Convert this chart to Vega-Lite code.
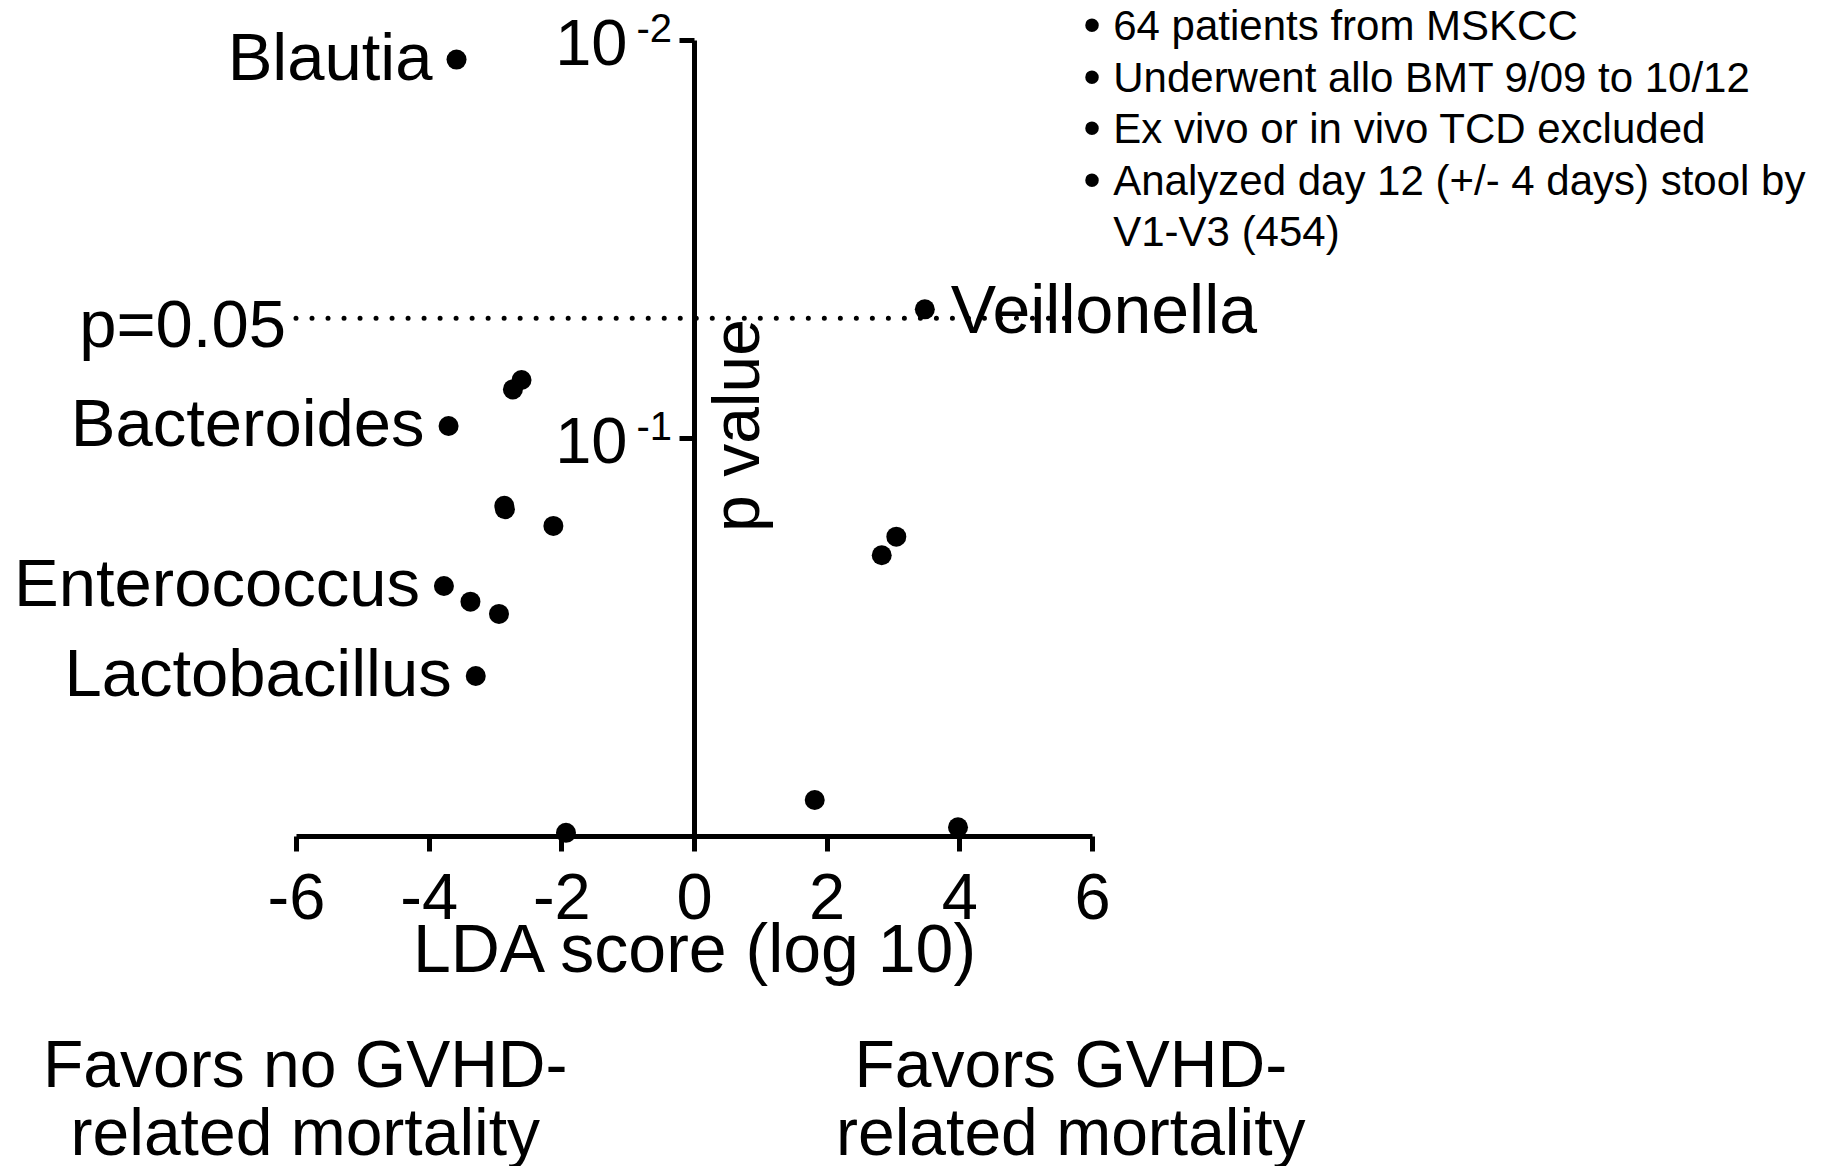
{
  "$schema": "https://vega.github.io/schema/vega-lite/v6.json",
  "width": 796,
  "height": 796,
  "autosize": {"type": "none"},
  "padding": {"left": 296, "top": 40, "right": 744, "bottom": 330},
  "background": "white",
  "config": {
    "view": {"stroke": null},
    "font": "Liberation Sans",
    "axis": {"labelFont": "Liberation Sans", "titleFont": "Liberation Sans", "labelColor": "black", "titleColor": "black", "domainColor": "black", "tickColor": "black", "grid": false, "labelOverlap": false, "titleFontWeight": "normal"},
    "text": {"font": "Liberation Sans", "color": "black"}
  },
  "datasets": {
    "exponents": [
      {"tick": 0.01, "exp": "-2"},
      {"tick": 0.1, "exp": "-1"}
    ]
  },
  "data": {
    "values": [
      {"lda": -3.58, "p": 0.0112, "genus": "Blautia"},
      {"lda": -2.60, "p": 0.0715},
      {"lda": -2.73, "p": 0.0755},
      {"lda": -3.70, "p": 0.0933, "genus": "Bacteroides"},
      {"lda": -2.86, "p": 0.148},
      {"lda": -2.85, "p": 0.151},
      {"lda": -2.12, "p": 0.1663},
      {"lda": -3.77, "p": 0.2355, "genus": "Enterococcus"},
      {"lda": -3.37, "p": 0.2578},
      {"lda": -2.94, "p": 0.2767},
      {"lda": -3.29, "p": 0.3963, "genus": "Lactobacillus"},
      {"lda": -1.93, "p": 0.982},
      {"lda": 3.48, "p": 0.0475, "genus": "Veillonella"},
      {"lda": 3.05, "p": 0.177},
      {"lda": 2.83, "p": 0.197},
      {"lda": 1.82, "p": 0.812},
      {"lda": 3.98, "p": 0.951}
    ]
  },
  "layer": [
    {
      "data": {"values": [{"threshold": 0.05}]},
      "mark": {"type": "rule", "strokeWidth": 5, "strokeDash": [0.01, 16], "strokeCap": "round", "color": "black"},
      "encoding": {
        "x": {"datum": -6, "type": "quantitative"},
        "x2": {"datum": 6},
        "y": {"field": "threshold", "type": "quantitative"}
      }
    },
    {
      "data": {"values": [{"threshold": 0.05}]},
      "mark": {"type": "text", "align": "right", "baseline": "alphabetic", "fontSize": 67, "dx": -10, "dy": 29},
      "encoding": {
        "x": {"datum": -6, "type": "quantitative"},
        "y": {"field": "threshold", "type": "quantitative"},
        "text": {"value": "p=0.05"}
      }
    },
    {
      "mark": {"type": "circle", "size": 400, "color": "black", "opacity": 1},
      "encoding": {
        "x": {
          "field": "lda", "type": "quantitative",
          "scale": {"domain": [-6, 6], "nice": false, "zero": false},
          "axis": {
            "orient": "bottom",
            "values": [-6, -4, -2, 0, 2, 4, 6],
            "labelExpr": "'' + datum.value",
            "domainWidth": 5,
            "tickSize": 15,
            "tickWidth": 5,
            "labelFontSize": 65,
            "labelPadding": 16,
            "labelFlush": false,
            "title": "LDA score (log 10)",
            "titleFontSize": 68,
            "titleY": 135,
            "titleBaseline": "alphabetic"
          }
        },
        "y": {
          "field": "p", "type": "quantitative",
          "scale": {"type": "log", "domain": [0.01, 1], "nice": false, "reverse": true},
          "axis": {
            "orient": "left",
            "offset": -398,
            "values": [0.01, 0.1],
            "labelExpr": "'10'",
            "domainWidth": 5,
            "tickSize": 15,
            "tickWidth": 5,
            "labelFontSize": 65,
            "labelPadding": 52,
            "labelBaseline": "middle",
            "labelOffset": 4,
            "title": "p value",
            "titleFontSize": 66,
            "titleAngle": -90,
            "titleX": 64,
            "titleY": 385,
            "titleAlign": "center",
            "titleBaseline": "alphabetic"
          }
        }
      }
    },
    {
      "data": {"name": "exponents"},
      "mark": {"type": "text", "align": "right", "baseline": "alphabetic", "fontSize": 40, "dx": -22, "dy": 2},
      "encoding": {
        "x": {"datum": 0, "type": "quantitative"},
        "y": {"field": "tick", "type": "quantitative"},
        "text": {"field": "exp"}
      }
    },
    {
      "transform": [{"filter": "isValid(datum.genus) && datum.lda < 0"}],
      "mark": {"type": "text", "align": "right", "baseline": "middle", "fontSize": 67, "dx": -24},
      "encoding": {
        "x": {"field": "lda", "type": "quantitative"},
        "y": {"field": "p", "type": "quantitative"},
        "text": {"field": "genus"}
      }
    },
    {
      "transform": [{"filter": "isValid(datum.genus) && datum.lda > 0"}],
      "mark": {"type": "text", "align": "left", "baseline": "middle", "fontSize": 68, "dx": 26, "dy": 4},
      "encoding": {
        "x": {"field": "lda", "type": "quantitative"},
        "y": {"field": "p", "type": "quantitative"},
        "text": {"field": "genus"}
      }
    },
    {
      "data": {"values": [{}]},
      "mark": {"type": "text", "align": "center", "baseline": "alphabetic", "fontSize": 50, "lineHeight": 51.5, "dy": 2},
      "encoding": {
        "x": {"datum": 6, "type": "quantitative"},
        "y": {"datum": 0.01, "type": "quantitative"},
        "text": {"value": ["•", "•", "•", "•"]}
      }
    },
    {
      "data": {"values": [{}]},
      "mark": {"type": "text", "align": "left", "baseline": "alphabetic", "fontSize": 42, "lineHeight": 51.5},
      "encoding": {
        "x": {"datum": 6.32, "type": "quantitative"},
        "y": {"datum": 0.01, "type": "quantitative"},
        "text": {"value": ["64 patients from MSKCC", "Underwent allo BMT 9/09 to 10/12", "Ex vivo or in vivo TCD excluded", "Analyzed day 12 (+/- 4 days) stool by", "V1-V3 (454)"]}
      }
    },
    {
      "data": {"values": [{}]},
      "mark": {"type": "text", "align": "center", "baseline": "alphabetic", "fontSize": 66, "lineHeight": 68},
      "encoding": {
        "x": {"datum": -5.86, "type": "quantitative"},
        "y": {"datum": 4.27, "type": "quantitative"},
        "text": {"value": ["Favors no GVHD-", "related mortality"]}
      }
    },
    {
      "data": {"values": [{}]},
      "mark": {"type": "text", "align": "center", "baseline": "alphabetic", "fontSize": 66, "lineHeight": 68},
      "encoding": {
        "x": {"datum": 5.68, "type": "quantitative"},
        "y": {"datum": 4.27, "type": "quantitative"},
        "text": {"value": ["Favors GVHD-", "related mortality"]}
      }
    }
  ]
}
